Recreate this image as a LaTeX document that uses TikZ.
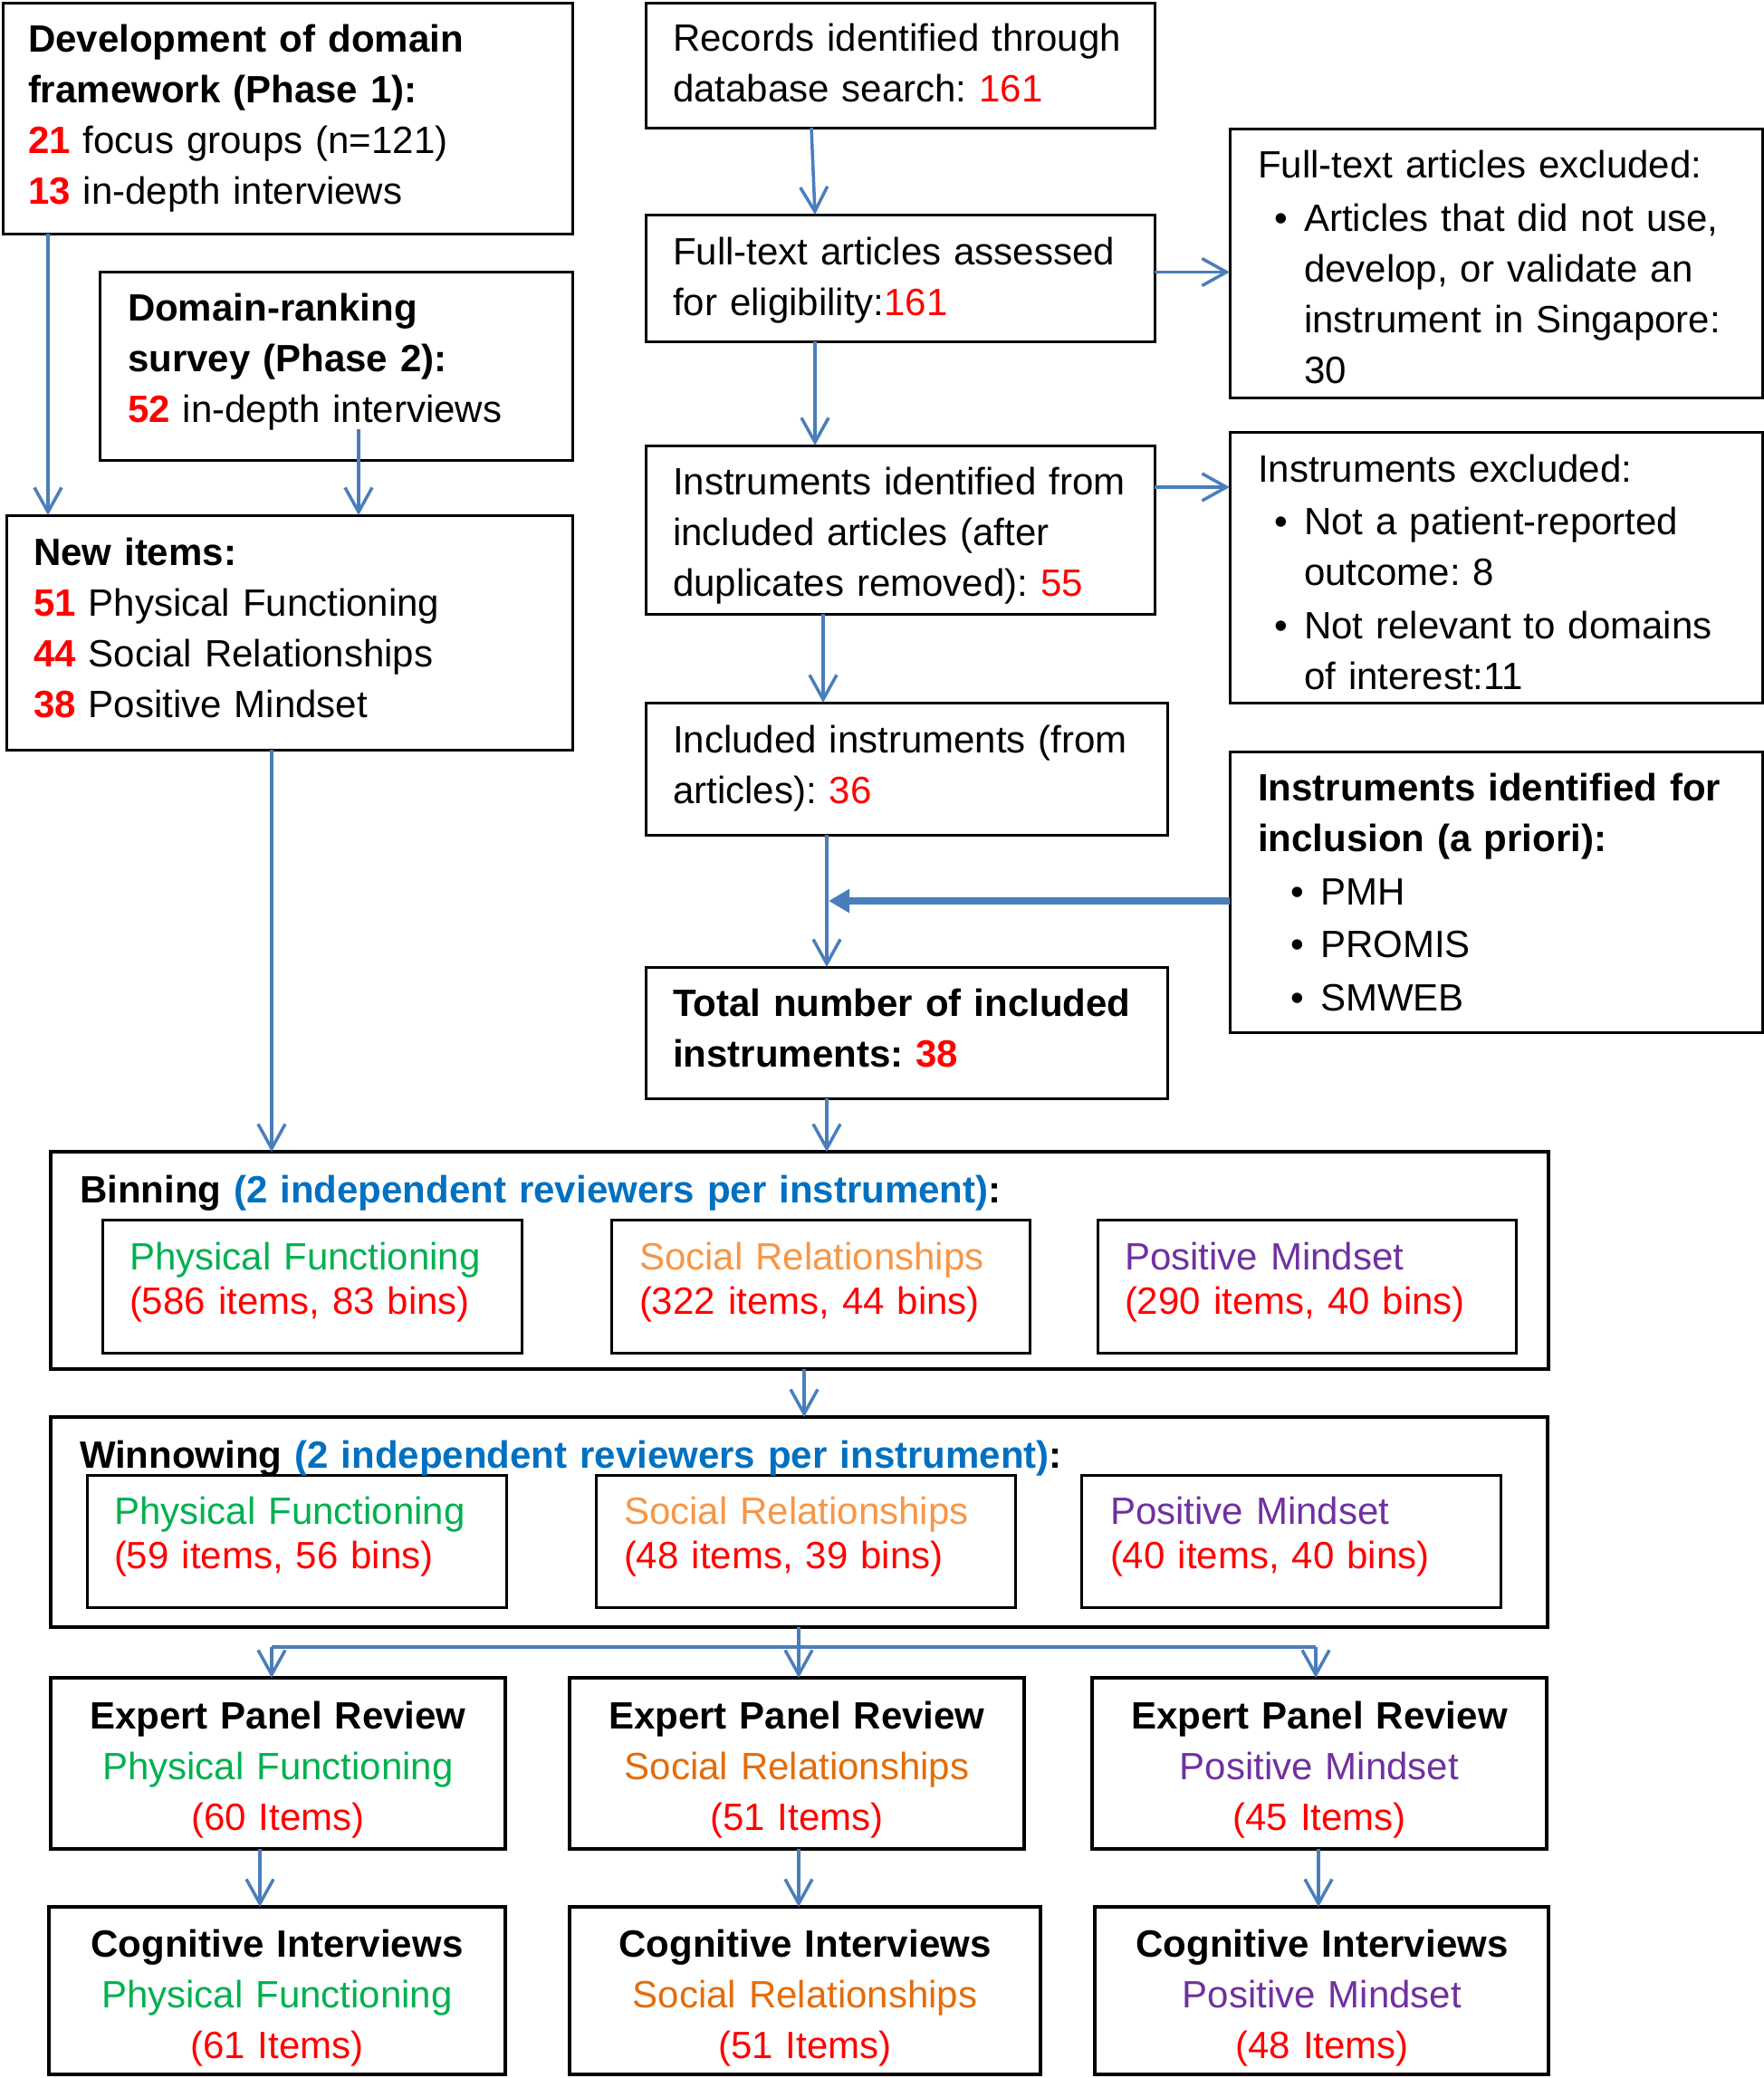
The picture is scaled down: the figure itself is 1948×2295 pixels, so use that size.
\documentclass[tikz,border=0pt]{standalone}
\usepackage{fontspec}
\setmainfont{Liberation Sans}
\usetikzlibrary{arrows.meta,calc}
\frenchspacing
\definecolor{myred}{HTML}{FF0000}
\definecolor{mygreen}{HTML}{00B050}
\definecolor{myorangeL}{HTML}{F79646}
\definecolor{myorangeD}{HTML}{E46C0A}
\definecolor{mypurple}{HTML}{7030A0}
\definecolor{myblue}{HTML}{0070C0}
\definecolor{arrowblue}{HTML}{4A7EBB}
\newcommand\rb[1]{\textcolor{myred}{\textbf{#1}}}
\newcommand\rn[1]{\textcolor{myred}{#1}}
\newcommand\mkbox[6]{\node[#6,minimum width={#4-#2},minimum height={#5-#3}] (#1) at (#2,#3) {};}
\tikzset{
 boxsty/.style={draw=black, line width=3pt, anchor=north west, inner sep=0pt, outer sep=0pt},
 thickbox/.style={boxsty, line width=4.5pt},
 panelbox/.style={boxsty, line width=4pt},
 arr/.style={draw=arrowblue, line width=3.5pt, -{Straight Barb[length=27pt,width=30pt]}},
 plainline/.style={draw=arrowblue, line width=3.5pt},
 fatarr/.style={draw=arrowblue, line width=8pt, -{Triangle[length=23pt,width=25pt]}},
 txtl/.style={anchor=base west, inner sep=0pt, outer sep=0pt, text width=700pt, align=left, font=\fontsize{42}{56}\selectfont},
 txtw/.style={txtl, text width=1400pt},
 txtb/.style={txtl, font=\fontsize{42}{49}\selectfont},
 txtc/.style={anchor=base, inner sep=0pt, outer sep=0pt, text width=560pt, align=center, font=\fontsize{42}{56}\selectfont},
}
\begin{document}
\begin{tikzpicture}[x=1pt,y=-1pt]
\useasboundingbox (0,0) rectangle (1948,2295);
% boxes
\mkbox{A}{3}{3}{632}{258}{boxsty}
\mkbox{B}{110}{300}{632}{508}{boxsty}
\mkbox{C}{7}{569}{632}{828}{boxsty}
\mkbox{D}{713}{3}{1275}{141}{boxsty}
\mkbox{E}{713}{237}{1275}{377}{boxsty}
\mkbox{F}{713}{492}{1275}{678}{boxsty}
\mkbox{G}{713}{776}{1289}{922}{boxsty}
\mkbox{H}{713}{1068}{1289}{1213}{boxsty}
\mkbox{I}{1358}{142}{1946}{439}{boxsty}
\mkbox{J}{1358}{477}{1946}{776}{boxsty}
\mkbox{K}{1358}{830}{1946}{1140}{boxsty}
\mkbox{Bin}{56}{1272}{1710}{1512}{thickbox}
\mkbox{b1}{113}{1347}{576}{1494}{boxsty}
\mkbox{b2}{675}{1347}{1137}{1494}{boxsty}
\mkbox{b3}{1212}{1347}{1674}{1494}{boxsty}
\mkbox{Win}{56}{1565}{1709}{1797}{thickbox}
\mkbox{w1}{96}{1629}{559}{1775}{boxsty}
\mkbox{w2}{658}{1629}{1121}{1775}{boxsty}
\mkbox{w3}{1194}{1629}{1657}{1775}{boxsty}
\mkbox{X1}{56}{1853}{558}{2042}{panelbox}
\mkbox{X2}{629}{1853}{1131}{2042}{panelbox}
\mkbox{X3}{1206}{1853}{1708}{2042}{panelbox}
\mkbox{Y1}{54}{2106}{558}{2291}{panelbox}
\mkbox{Y2}{629}{2106}{1149}{2291}{panelbox}
\mkbox{Y3}{1209}{2106}{1710}{2291}{panelbox}
% texts
\node[txtl] (tA) at (31,57) {\textbf{Development of domain}\\\textbf{framework (Phase 1):}\\\rb{21} focus groups (n=121)\\\rb{13} in-depth interviews};
\node[txtl] (tB) at (141,354) {\textbf{Domain-ranking}\\\textbf{survey (Phase 2):}\\\rb{52} in-depth interviews};
\node[txtl] (tC) at (37,624) {\textbf{New items:}\\\rb{51} Physical Functioning\\\rb{44} Social Relationships\\\rb{38} Positive Mindset};
\node[txtl] (tD) at (743,56) {Records identified through\\database search: \rn{161}};
\node[txtl] (tE) at (743,292) {Full-text articles assessed\\for eligibility:\rn{161}};
\node[txtl] (tF) at (743,546) {Instruments identified from\\included articles (after\\duplicates removed): \rn{55}};
\node[txtl] (tG) at (743,831) {Included instruments (from\\articles): \rn{36}};
\node[txtl] (tH) at (743,1122) {\textbf{Total number of included}\\\textbf{instruments: \textcolor{myred}{38}}};
\node[txtl] (tI) at (1389,196) {Full-text articles excluded:};
\node[txtl] (dI) at (1407,255) {\textbullet};
\node[txtl] (tI1) at (1440,255) {Articles that did not use,\\develop, or validate an\\instrument in Singapore:\\30};
\node[txtl] (tJ) at (1389,532) {Instruments excluded:};
\node[txtl] (dJ1) at (1407,590) {\textbullet};
\node[txtl] (tJ1) at (1440,590) {Not a patient-reported\\outcome: 8};
\node[txtl] (dJ2) at (1407,705) {\textbullet};
\node[txtl] (tJ2) at (1440,705) {Not relevant to domains\\of interest:11};
\node[txtl] (tK) at (1389,884) {\textbf{Instruments identified for}\\\textbf{inclusion (a priori):}};
\node[txtl] (dK1) at (1425,999) {\textbullet};
\node[txtl] (tK1) at (1458,999) {PMH};
\node[txtl] (dK2) at (1425,1057) {\textbullet};
\node[txtl] (tK2) at (1458,1057) {PROMIS};
\node[txtl] (dK3) at (1425,1116) {\textbullet};
\node[txtl] (tK3) at (1458,1116) {SMWEB};
\node[txtw] (tBin) at (88,1328) {\textbf{Binning \textcolor{myblue}{(2 independent reviewers per instrument)}:}};
\node[txtb] (tb1) at (143,1402) {\textcolor{mygreen}{Physical Functioning}\\\rn{(586 items, 83 bins)}};
\node[txtb] (tb2) at (706,1402) {\textcolor{myorangeL}{Social Relationships}\\\rn{(322 items, 44 bins)}};
\node[txtb] (tb3) at (1242,1402) {\textcolor{mypurple}{Positive Mindset}\\\rn{(290 items, 40 bins)}};
\node[txtw] (tWin) at (88,1621) {\textbf{Winnowing \textcolor{myblue}{(2 independent reviewers per instrument)}:}};
\node[txtb] (tw1) at (126,1683) {\textcolor{mygreen}{Physical Functioning}\\\rn{(59 items, 56 bins)}};
\node[txtb] (tw2) at (689,1683) {\textcolor{myorangeL}{Social Relationships}\\\rn{(48 items, 39 bins)}};
\node[txtb] (tw3) at (1226,1683) {\textcolor{mypurple}{Positive Mindset}\\\rn{(40 items, 40 bins)}};
\node[txtc] (tX1) at (307,1909) {\textbf{Expert Panel Review}\\\textcolor{mygreen}{Physical Functioning}\\\rn{(60 Items)}};
\node[txtc] (tX2) at (880,1909) {\textbf{Expert Panel Review}\\\textcolor{myorangeD}{Social Relationships}\\\rn{(51 Items)}};
\node[txtc] (tX3) at (1457,1909) {\textbf{Expert Panel Review}\\\textcolor{mypurple}{Positive Mindset}\\\rn{(45 Items)}};
\node[txtc] (tY1) at (306,2161) {\textbf{Cognitive Interviews}\\\textcolor{mygreen}{Physical Functioning}\\\rn{(61 Items)}};
\node[txtc] (tY2) at (889,2161) {\textbf{Cognitive Interviews}\\\textcolor{myorangeD}{Social Relationships}\\\rn{(51 Items)}};
\node[txtc] (tY3) at (1460,2161) {\textbf{Cognitive Interviews}\\\textcolor{mypurple}{Positive Mindset}\\\rn{(48 Items)}};
% connectors
\coordinate (bstart) at (396,474);
\coordinate (kj) at (915,995);
\coordinate (bl) at (300,1819);
\coordinate (br) at (1453,1819);
\draw[arr] ([xshift=50pt]A.south west) -- ([xshift=46pt]C.north west);
\draw[arr] (bstart) -- (bstart |- C.north);
\draw[arr] ([xshift=293pt]C.south west) -- ([xshift=244pt]Bin.north west);
\draw[arr] ([xshift=183pt]D.south west) -- ([xshift=187pt]E.north west);
\draw[arr] ([yshift=6.5pt]E.east) -- ([yshift=6.5pt]E.east -| I.west);
\draw[arr] ([yshift=47pt]F.east) -- ([yshift=47pt]F.east -| J.west);
\draw[arr] ([xshift=187pt]E.south west) -- ([xshift=187pt]F.north west);
\draw[arr] ([xshift=196pt]F.south west) -- ([xshift=196pt]G.north west);
\draw[arr] ([xshift=200pt]G.south west) -- ([xshift=200pt]H.north west);
\draw[fatarr] (K.west |- kj) -- (kj);
\draw[arr] ([xshift=200pt]H.south west) -- ([xshift=857pt]Bin.north west);
\draw[arr] ([xshift=832pt]Bin.south west) -- ([xshift=832pt]Win.north west);
\draw[plainline] (bl) -- (br);
\draw[arr] ([xshift=826pt]Win.south west) -- ([xshift=253pt]X2.north west);
\draw[arr] (bl) -- (bl |- X1.north);
\draw[arr] (br) -- (br |- X3.north);
\draw[arr] ([xshift=231pt]X1.south west) -- ([xshift=233pt]Y1.north west);
\draw[arr] ([xshift=253pt]X2.south west) -- ([xshift=253pt]Y2.north west);
\draw[arr] ([xshift=250pt]X3.south west) -- ([xshift=247pt]Y3.north west);
\end{tikzpicture}
\end{document}
